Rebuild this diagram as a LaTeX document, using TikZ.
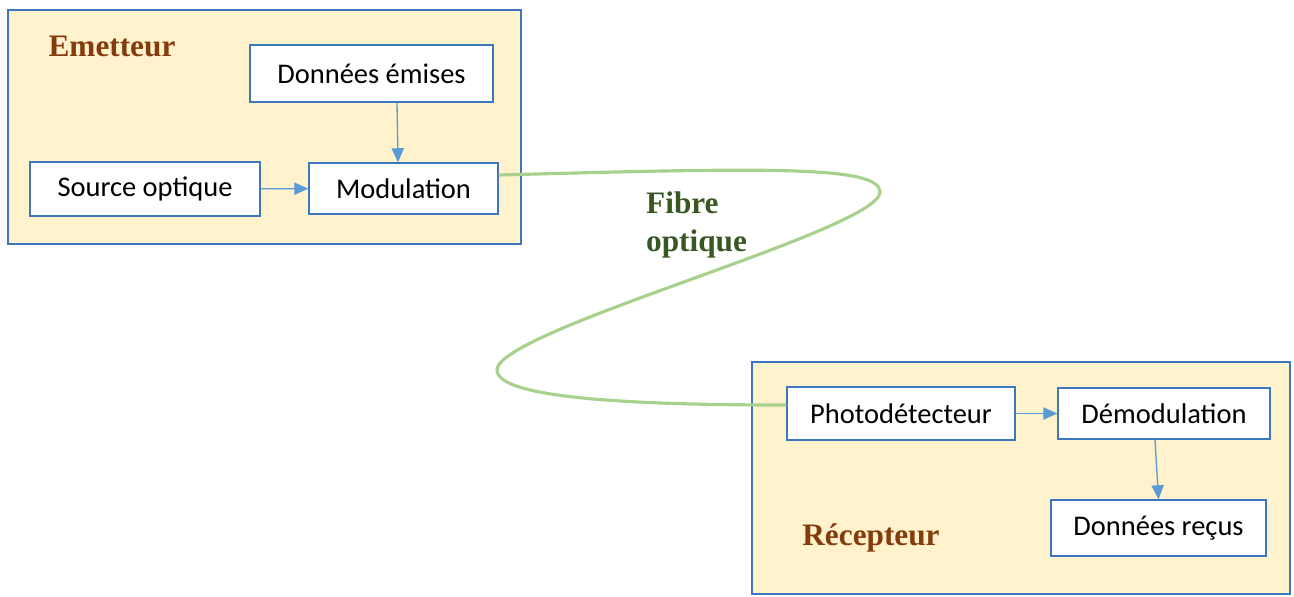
\documentclass[tikz,border=0pt]{standalone}
\usepackage{fontspec}
\setmainfont{Liberation Serif}
\newfontfamily\boxfont{Carlito}
\usetikzlibrary{arrows.meta,positioning}
\definecolor{panelfill}{HTML}{FFF2CC}
\definecolor{edgeblue}{HTML}{3B78C0}
\definecolor{arrowblue}{HTML}{5B9BD5}
\definecolor{fibregreen}{HTML}{A9D18E}
\definecolor{labelbrown}{HTML}{843C0C}
\definecolor{labelgreen}{HTML}{385723}

\begin{document}
\begin{tikzpicture}[x=0.02cm,y=-0.02cm,
  panel/.style={draw=edgeblue,fill=panelfill,line width=0.8pt},
  bloc/.style={draw=edgeblue,fill=white,line width=0.8pt,inner sep=0pt,
    font=\boxfont\fontsize{16.2}{19}\selectfont},
  titre/.style={font=\bfseries\fontsize{17.8}{21.6}\selectfont,text=labelbrown},
  fleche/.style={draw=arrowblue,line width=0.75pt,-{Triangle[length=8pt,width=7pt]}},
  fibre/.style={draw=fibregreen,line width=1.8pt}]
\useasboundingbox (0,0) rectangle (1294,596);

% Emetteur
\draw[panel] (8,10) rectangle (521,244);
\node[titre] (emet) at (112,46) {Emetteur};
\node[bloc,minimum width=4.86cm,minimum height=1.14cm] (de) at (371.5,73.5) {Données émises};
\node[bloc,minimum width=4.6cm,minimum height=1.08cm] (src) at (145,189) {Source optique};
\node[bloc,minimum width=3.78cm,minimum height=1.02cm] (mod) at (403.5,188.5) {Modulation};
\draw[fleche] (src) -- (mod);
\draw[fleche] ([xshift=0.51cm]de.south) -- ([xshift=-0.11cm]mod.north);

% Recepteur
\draw[panel] (752,362) rectangle (1290,594);
\node[bloc,minimum width=4.56cm,minimum height=1.06cm] (pd) at (901,413.5) {Photodétecteur};
\node[bloc,minimum width=4.24cm,minimum height=1.02cm] (dem) at (1164,413.5) {Démodulation};
\node[bloc,minimum width=4.3cm,minimum height=1.12cm] (dr) at (1158.5,528) {Données reçus};
\node[titre] (recep) at (871,538) {Récepteur};
\draw[fleche] (pd) -- (dem);
\draw[fleche] ([xshift=-0.18cm]dem.south) -- (dr.north);

% fibre
\draw[fibre] ([yshift=0.27cm]mod.east) .. controls (760,168) and (880,165) .. (880,192)
  .. controls (880,230) and (497,330) .. (497,370)
  .. controls (497,400) and (650,405) .. ([yshift=0.17cm]pd.west);
\node[titre,text=labelgreen,align=left,anchor=north west] (fib) at (640,186) {Fibre\\optique};
\end{tikzpicture}
\end{document}
